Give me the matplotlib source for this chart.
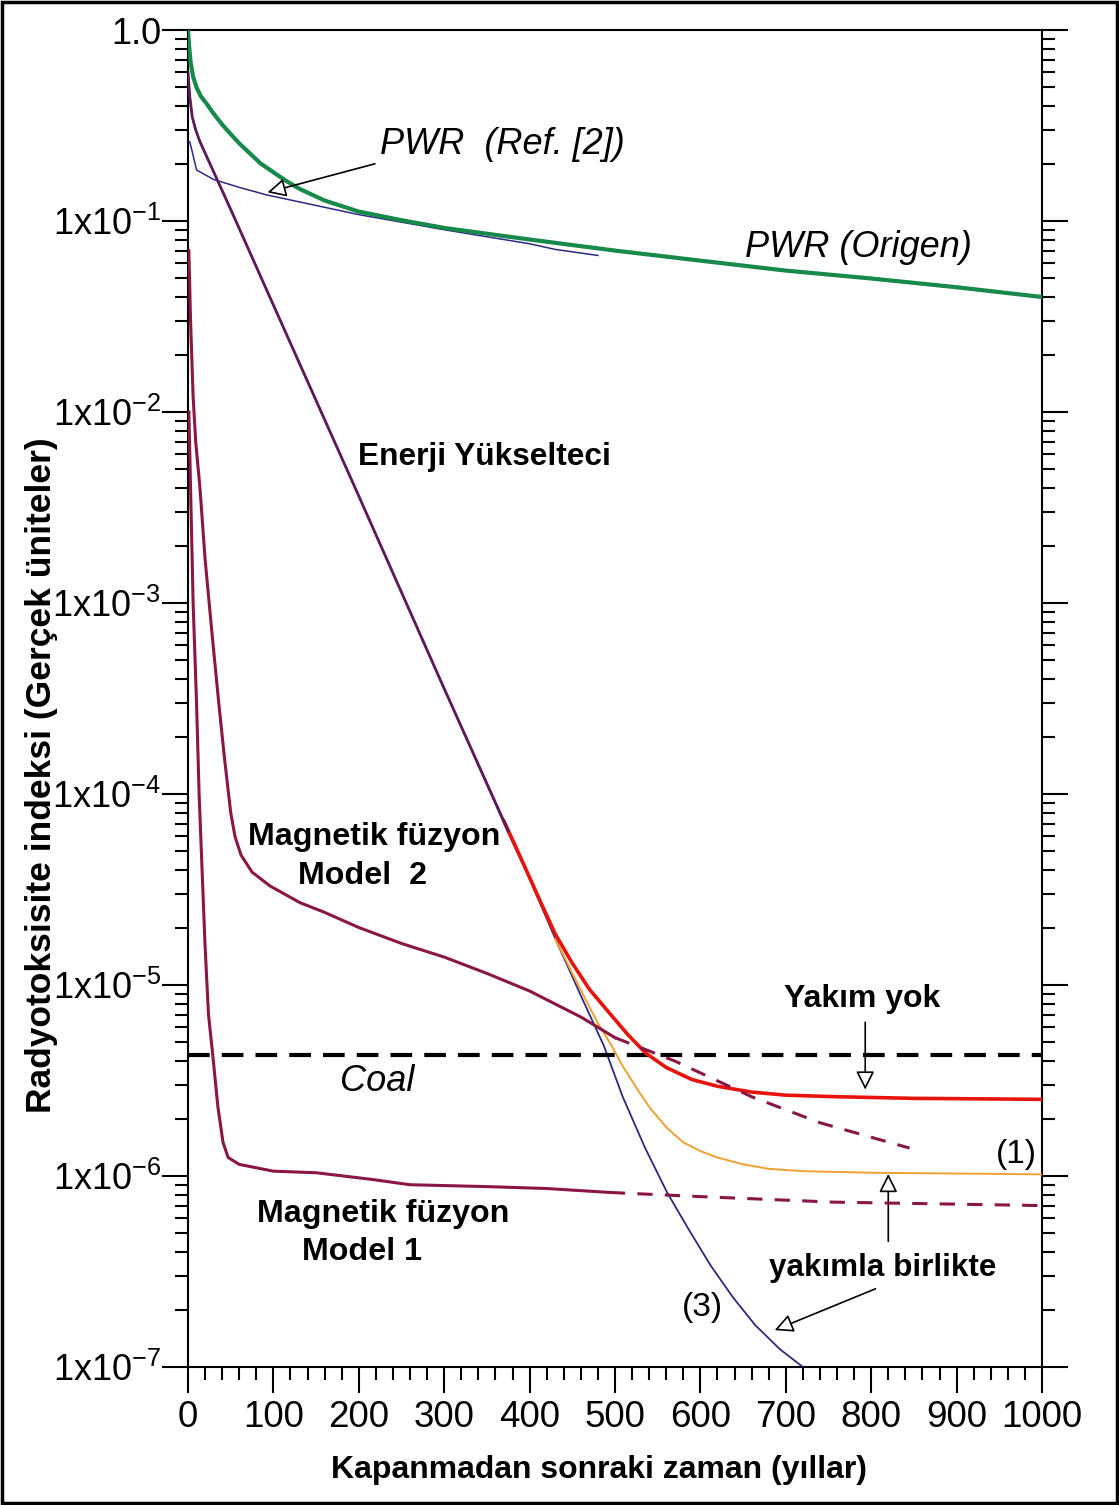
import matplotlib
matplotlib.use("Agg")
import matplotlib.pyplot as plt
from matplotlib.ticker import FixedLocator, NullFormatter, LogLocator
from matplotlib.patches import Rectangle

plt.rcParams['font.family'] = ['Liberation Sans', 'DejaVu Sans']
plt.rcParams['mathtext.fontset'] = 'custom'
plt.rcParams['mathtext.rm'] = 'Liberation Sans'
plt.rcParams['mathtext.it'] = 'Liberation Sans:italic'
plt.rcParams['mathtext.bf'] = 'Liberation Sans:bold'

# ---------------- data ----------------
years_origen = [0, 1, 3, 6, 10, 15, 22, 29, 40, 50, 60, 72, 85, 100, 115, 131, 160, 200, 250,
                300, 400, 500, 600, 700, 800, 900, 1000]
pwr_origen = [1.0, 0.85, 0.68, 0.57, 0.50, 0.45, 0.41, 0.37, 0.32, 0.285, 0.255, 0.227, 0.20,
              0.18, 0.162, 0.147, 0.128, 0.112, 0.101, 0.092, 0.080, 0.070, 0.062, 0.055,
              0.050, 0.045, 0.040]

years_ref2 = [2, 4, 10, 30, 60, 92, 130, 200, 300, 400, 430, 480]
pwr_ref2 = [0.26, 0.24, 0.185, 0.165, 0.15, 0.137, 0.126, 0.108, 0.090, 0.076, 0.071, 0.066]

years_ea = [0, 2, 5, 9, 14, 50, 100, 200, 300, 375]
ea_common = [0.6, 0.45, 0.35, 0.30, 0.26, 0.115, 0.0363, 3.63e-3, 3.56e-4, 6.4e-5]

years_ea3 = [0, 2, 5, 9, 14, 50, 100, 200, 300, 380, 400, 430, 460, 487, 509, 535, 561, 588,
             612, 638, 664, 693, 720]
ea_burn3 = [0.6, 0.45, 0.35, 0.30, 0.26, 0.115, 0.0363, 3.63e-3, 3.56e-4, 5.6e-5, 3.6e-5,
            1.75e-5, 8.8e-6, 4.8e-6, 2.6e-6, 1.41e-6, 8.2e-7, 5.1e-7, 3.4e-7, 2.32e-7,
            1.66e-7, 1.24e-7, 1.0e-7]

years_noburn = [370, 390, 410, 430, 450, 470, 495, 515, 536, 560, 590, 620, 660, 700, 760, 850,
                1000]
ea_noburn = [7.2e-5, 4.6e-5, 2.9e-5, 1.85e-5, 1.3e-5, 9.5e-6, 7.0e-6, 5.5e-6, 4.4e-6, 3.7e-6,
             3.2e-6, 2.95e-6, 2.75e-6, 2.65e-6, 2.6e-6, 2.55e-6, 2.52e-6]

years_burn1 = [430, 450, 465, 480, 495, 510, 525, 540, 560, 580, 600, 620, 650, 680, 720, 800,
               900, 1000]
ea_burn1 = [1.75e-5, 1.15e-5, 8.5e-6, 6.3e-6, 4.9e-6, 3.7e-6, 2.9e-6, 2.3e-6, 1.8e-6, 1.5e-6,
            1.35e-6, 1.25e-6, 1.15e-6, 1.09e-6, 1.06e-6, 1.04e-6, 1.03e-6, 1.02e-6]

years_mf2 = [1, 3, 6, 9, 14, 20, 28, 36, 43, 50, 55, 62, 75, 96, 131, 160, 200, 250, 300, 350,
             400, 460, 500]
mf2 = [0.07, 0.03, 0.012, 7e-3, 4e-3, 1.7e-3, 7e-4, 3e-4, 1.5e-4, 8e-5, 6e-5, 4.8e-5, 3.9e-5,
       3.3e-5, 2.7e-5, 2.4e-5, 2.0e-5, 1.65e-5, 1.4e-5, 1.15e-5, 9.3e-6, 6.8e-6, 5.3e-6]
years_mf2_ext = [500, 570, 660, 740, 845]
mf2_ext = [5.3e-6, 4.0e-6, 2.6e-6, 1.9e-6, 1.4e-6]

years_mf1 = [1, 3, 6, 10, 13, 17, 20, 24, 29, 35, 41, 47, 60, 100, 150, 215, 260, 350, 420, 494]
mf1 = [1e-2, 4e-3, 1e-3, 3e-4, 1e-4, 3.5e-5, 1.6e-5, 7e-6, 4.3e-6, 2.3e-6, 1.5e-6, 1.25e-6,
       1.15e-6, 1.06e-6, 1.04e-6, 9.6e-7, 9.0e-7, 8.8e-7, 8.6e-7, 8.2e-7]
years_mf1_ext = [494, 600, 755, 1000]
mf1_ext = [8.2e-7, 7.8e-7, 7.3e-7, 7.0e-7]

coal_level = 4.3e-6

x_ticks = [0, 100, 200, 300, 400, 500, 600, 700, 800, 900, 1000]
y_ticks = [1.0, 1e-1, 1e-2, 1e-3, 1e-4, 1e-5, 1e-6, 1e-7]
y_ticklabels = ['1.0', '1x10$^{-1}$', '1x10$^{-2}$', '1x10$^{-3}$', '1x10$^{-4}$',
                '1x10$^{-5}$', '1x10$^{-6}$', '1x10$^{-7}$']

# ---------------- figure ----------------
W, H = 1119, 1505
fig = plt.figure(figsize=(W / 100, H / 100), dpi=100)
ax = fig.add_axes([188 / W, 1 - 1367 / H, (1042 - 188) / W, (1367 - 30) / H])
ax.set_yscale('log')
ax.set_xlim(0, 1000)
ax.set_ylim(1e-7, 1.0)

maroon = '#8a1646'
ax.plot(years_ref2, pwr_ref2, color='#2b2a86', lw=1.1, zorder=2)
ax.plot(years_origen, pwr_origen, color='#16894b', lw=3.0, zorder=3)
ax.plot(years_ea3, ea_burn3, color='#2b2a80', lw=1.3, zorder=4)
ax.plot(years_burn1, ea_burn1, color='#f0a030', lw=1.4, zorder=4)
ax.plot(years_noburn, ea_noburn, color='#e8140c', lw=2.6, zorder=5)
ax.plot(years_ea, ea_common, color='#5e1a58', lw=2.0, zorder=6)
ax.plot(years_mf2, mf2, color=maroon, lw=2.2, zorder=5)
ax.plot(years_mf2_ext, mf2_ext, color=maroon, lw=2.2, dashes=(5, 4), zorder=5)
ax.plot(years_mf1, mf1, color=maroon, lw=2.2, zorder=5)
ax.plot(years_mf1_ext, mf1_ext, color=maroon, lw=2.2, dashes=(5, 4), zorder=5)
ax.axhline(coal_level, color='black', lw=3.0, dashes=(5.2, 2.9), zorder=4)

# axes styling
for s in ax.spines.values():
    s.set_linewidth(1.5)
ax.xaxis.set_major_locator(FixedLocator(x_ticks))
ax.xaxis.set_minor_locator(FixedLocator([v for v in range(0, 1001, 20) if v % 100]))
ax.set_xticklabels([str(v) for v in x_ticks])
ax.yaxis.set_major_locator(FixedLocator(y_ticks))
ax.yaxis.set_minor_locator(LogLocator(base=10, subs=range(2, 10), numticks=20))
ax.yaxis.set_minor_formatter(NullFormatter())
ax.set_yticklabels(y_ticklabels)
ax.tick_params(axis='both', which='major', direction='out', length=18.5, width=1.5)
ax.tick_params(axis='both', which='minor', direction='out', length=9.5, width=1.5)
ax.tick_params(axis='y', which='both', left=True, right=True, labelright=False)
ax.tick_params(axis='x', which='both', top=False, bottom=True)
ax.tick_params(axis='y', which='major', labelsize=26, pad=1)
ax.tick_params(axis='x', which='major', labelsize=26.5, pad=5)
for lab in ax.get_xticklabels():
    lab.set_family(['Liberation Sans Narrow', 'Liberation Sans', 'DejaVu Sans'])

# annotations
arrow_kw = dict(arrowstyle='-|>', fc='white', ec='black', lw=1.2, mutation_scale=28)
ax.text(225, 0.25, 'PWR  (Ref. [2])', style='italic', fontsize=26, ha='left', va='center')
ax.annotate('', xy=(90, 0.140), xytext=(222, 0.201), arrowprops=arrow_kw)
ax.text(652, 0.0723, 'PWR (Origen)', style='italic', fontsize=26, ha='left', va='center')
ax.text(199, 5.83e-3, 'Enerji Yükselteci', fontweight='bold', fontsize=22.8, ha='left', va='center')
ax.text(218, 5.98e-5, 'Magnetik füzyon', fontweight='bold', fontsize=23.2, ha='center', va='center')
ax.text(204, 3.7e-5, 'Model  2', fontweight='bold', fontsize=23.2, ha='center', va='center')
ax.text(229, 6.3e-7, 'Magnetik füzyon', fontweight='bold', fontsize=23.2, ha='center', va='center')
ax.text(204, 3.98e-7, 'Model 1', fontweight='bold', fontsize=23.2, ha='center', va='center')
ax.text(789, 8.4e-6, 'Yakım yok', fontweight='bold', fontsize=23, ha='center', va='center')
ax.annotate('', xy=(793, 2.74e-6), xytext=(793, 6.6e-6), arrowprops=arrow_kw)
ax.text(221, 3.13e-6, 'Coal', style='italic', fontsize=26, ha='center', va='center')
ax.text(970, 1.3e-6, '(1)', fontsize=24, ha='center', va='center')
ax.text(813, 3.3e-7, 'yakımla birlikte', fontweight='bold', fontsize=22.6, ha='center', va='center')
ax.annotate('', xy=(820, 1.06e-6), xytext=(820, 4.4e-7), arrowprops=arrow_kw)
ax.annotate('', xy=(684, 1.54e-7), xytext=(808, 2.6e-7), arrowprops=arrow_kw)
ax.text(602, 2.05e-7, '(3)', fontsize=24, ha='center', va='center')

fig.text(599 / W, 1 - 1470 / H, 'Kapanmadan sonraki zaman (yıllar)', fontweight='bold',
         fontsize=23, ha='center', va='center')
fig.text(42 / W, 1 - 775 / H, 'Radyotoksisite indeksi (Gerçek üniteler)', fontweight='bold',
         fontsize=25.5, ha='center', va='center', rotation=90)

fig.patches.append(Rectangle((2 / W, 2 / H), 1 - 4 / W, 1 - 4 / H, transform=fig.transFigure,
                             fill=False, ec='black', lw=2.5))

fig.savefig('out.png', dpi=100)
